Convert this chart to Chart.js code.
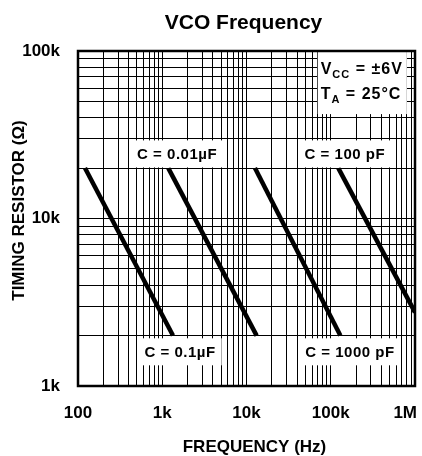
<!DOCTYPE html>
<html>
<head>
<meta charset="utf-8">
<script src="https://cdn.jsdelivr.net/npm/chart.js@4.4.1/dist/chart.umd.min.js"></script>
<style>
  body { margin: 0; background: #fff; }
  #wrap { width: 422px; height: 456px; }
</style>
</head>
<body>
<div id="wrap"><canvas id="chart" width="422" height="456"></canvas></div>
<script>
// Curves: timing resistor vs. frequency, one per capacitor
const resistance = [20000, 2000];
const resistance100pF = [20000, 2750];
const freq01uF = [121, 1340];
const freq001uF = [1180, 13200];
const freq1000pF = [12600, 130000];
const freq100pF = [123000, 1000000];

// Grid / tick values
const xGrid = [100, 200, 300, 400, 500, 600, 700, 800, 900,
  1e3, 2e3, 3e3, 4e3, 5e3, 6e3, 7e3, 8e3, 9e3,
  1e4, 2e4, 3e4, 4e4, 5e4, 6e4, 7e4, 8e4, 9e4,
  1e5, 2e5, 3e5, 4e5, 5e5, 6e5, 7e5, 8e5, 9e5, 1e6];
const yGrid = [1e3, 2e3, 3e3, 4e3, 5e3, 6e3, 7e3, 8e3, 9e3,
  1e4, 2e4, 3e4, 4e4, 5e4, 6e4, 7e4, 8e4, 9e4, 1e5];
const xTickValues = [100, 1e3, 1e4, 1e5, 1e6];
const xTickLabels = ["100", "1k", "10k", "100k", "1M"];
const yTickValues = [1e3, 1e4, 1e5];
const yTickLabels = ["1k", "10k", "100k"];

// Capacitor labels, anchored in data units (freq, resistance)
const capLabels = ["C = 0.01\u00b5F", "C = 100 pF", "C = 0.1\u00b5F", "C = 1000 pF"];
const capLabelFreq = [1500, 147000, 1630, 169000];
const capLabelRes = [24300, 24300, 1600, 1600];

const FONT = '"Liberation Sans", Arial, sans-serif';

function toPoints(xs, ys) {
  return xs.map((v, i) => ({ x: v, y: ys[i] }));
}

const decor = {
  id: "decor",
  afterDatasetsDraw(chart) {
    const { ctx, chartArea: a, scales: { x, y } } = chart;
    ctx.save();

    // capacitor labels on white boxes
    ctx.font = "bold 15px " + FONT;
    ctx.letterSpacing = "0.5px";
    ctx.textAlign = "center";
    ctx.textBaseline = "middle";
    capLabels.forEach((t, i) => {
      const px = x.getPixelForValue(capLabelFreq[i]);
      const py = y.getPixelForValue(capLabelRes[i]);
      const w = ctx.measureText(t).width + 12;
      ctx.fillStyle = "#fff";
      ctx.fillRect(px - w / 2, py - 13.5, w, 27);
      ctx.fillStyle = "#000";
      ctx.fillText(t, px, py + 1);
    });

    // conditions box (top right)
    const bx0 = x.getPixelForValue(70000);
    const bx1 = x.getPixelForValue(800000);
    const by1 = y.getPixelForValue(42000);
    ctx.fillStyle = "#fff";
    ctx.fillRect(bx0, a.top, bx1 - bx0, by1 - a.top);
    ctx.fillStyle = "#000";
    ctx.textAlign = "left";
    ctx.textBaseline = "alphabetic";
    ctx.letterSpacing = "1px";
    const drawRuns = (runs, x0, base) => {
      let cx = x0;
      runs.forEach(([txt, size, dy]) => {
        ctx.font = "bold " + size + "px " + FONT;
        ctx.fillText(txt, cx, base + dy);
        cx += ctx.measureText(txt).width;
      });
    };
    drawRuns([["V", 16, 0], ["CC", 11, 4], [" = \u00b16V", 16, 0]], bx0 + 3, a.top + 23);
    drawRuns([["T", 16, 0], ["A", 11, 4], [" = 25\u00b0C", 16, 0]], bx0 + 3, a.top + 48);
    ctx.letterSpacing = "0px";

    ctx.restore();
  },
  afterDraw(chart) {
    const { ctx, chartArea: a, scales: { x } } = chart;
    ctx.save();
    // plot frame
    ctx.strokeStyle = "#000";
    ctx.lineWidth = 2.5;
    ctx.strokeRect(a.left, a.top, a.right - a.left, a.bottom - a.top);

    // x tick labels
    ctx.fillStyle = "#000";
    ctx.font = "bold 17px " + FONT;
    ctx.textBaseline = "middle";
    xTickValues.forEach((v, i) => {
      const px = x.getPixelForValue(v);
      const last = i === xTickValues.length - 1;
      ctx.textAlign = last ? "right" : "center";
      ctx.fillText(xTickLabels[i], last ? px + 2 : px, a.bottom + 27);
    });

    // titles
    ctx.textAlign = "center";
    ctx.font = "bold 21px " + FONT;
    ctx.fillText("VCO Frequency", (a.left + a.right) / 2 - 3, 23);
    ctx.font = "bold 17px " + FONT;
    ctx.fillText("FREQUENCY (Hz)", (a.left + a.right) / 2 + 8, a.bottom + 61);
    ctx.translate(19, (a.top + a.bottom) / 2 - 8);
    ctx.rotate(-Math.PI / 2);
    ctx.fillText("TIMING RESISTOR (\u03a9)", 0, 0);
    ctx.restore();
  }
};

const lineStyle = {
  borderColor: "#000",
  borderWidth: 4.5,
  pointRadius: 0,
  fill: false,
  tension: 0
};

new Chart(document.getElementById("chart"), {
  type: "line",
  data: {
    datasets: [
      { label: "C = 0.1uF", data: toPoints(freq01uF, resistance), ...lineStyle },
      { label: "C = 0.01uF", data: toPoints(freq001uF, resistance), ...lineStyle },
      { label: "C = 1000 pF", data: toPoints(freq1000pF, resistance), ...lineStyle },
      { label: "C = 100 pF", data: toPoints(freq100pF, resistance100pF), ...lineStyle }
    ]
  },
  options: {
    responsive: false,
    animation: false,
    layout: { padding: { top: 51, right: 7, left: 0, bottom: 0 } },
    plugins: {
      legend: { display: false },
      tooltip: { enabled: false },
      title: { display: false }
    },
    scales: {
      x: {
        type: "logarithmic",
        min: 100,
        max: 1e6,
        afterBuildTicks: (s) => { s.ticks = xGrid.map(v => ({ value: v })); },
        afterFit: (s) => { s.height = 70; },
        grid: { color: "#000", lineWidth: 1, drawTicks: false },
        border: { display: false },
        ticks: { display: false, autoSkip: false }
      },
      y: {
        type: "logarithmic",
        min: 1000,
        max: 1e5,
        afterBuildTicks: (s) => { s.ticks = yGrid.map(v => ({ value: v })); },
        afterFit: (s) => { s.width = 78; },
        grid: { color: "#000", lineWidth: 1, drawTicks: false },
        border: { display: false },
        ticks: {
          autoSkip: false,
          padding: 18,
          color: "#000",
          font: { family: FONT, size: 17, weight: "bold" },
          callback: (v) => {
            const i = yTickValues.indexOf(v);
            return i >= 0 ? yTickLabels[i] : "";
          }
        }
      }
    }
  },
  plugins: [decor]
});
</script>
</body>
</html>
